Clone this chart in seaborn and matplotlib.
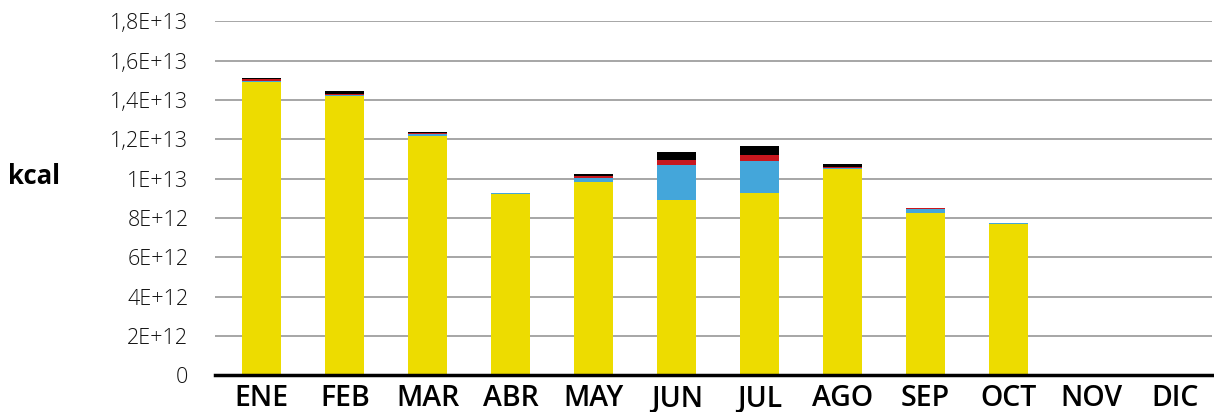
import numpy as np
import pandas as pd
import matplotlib
matplotlib.use("Agg")
import matplotlib.pyplot as plt
import seaborn as sns

# Datos por mes (en unidades de 1E+12 kcal)
meses = ["ENE", "FEB", "MAR", "ABR", "MAY", "JUN", "JUL", "AGO", "SEP", "OCT", "NOV", "DIC"]
serie_amarilla = [14.93, 14.20, 12.15, 9.23, 9.81, 8.92, 9.29, 10.48, 8.24, 7.72, 0, 0]
serie_azul = [0.05, 0.035, 0.10, 0.07, 0.21, 1.77, 1.61, 0.07, 0.21, 0.05, 0, 0]
serie_roja = [0.07, 0.07, 0.10, 0.0, 0.10, 0.26, 0.31, 0.05, 0.05, 0.0, 0, 0]
serie_negra = [0.07, 0.14, 0.05, 0.0, 0.10, 0.42, 0.47, 0.14, 0.0, 0.0, 0, 0]

colores = {"amarilla": "#EDDC00", "azul": "#44A6DA", "roja": "#C8171E", "negra": "#000000"}

escala = 1e12
df = pd.DataFrame({
    "mes": meses,
    "amarilla": np.array(serie_amarilla) * escala,
    "azul": np.array(serie_azul) * escala,
    "roja": np.array(serie_roja) * escala,
    "negra": np.array(serie_negra) * escala,
})

# Acumulados para apilar (se dibuja del total hacia abajo)
df["c_amarilla"] = df["amarilla"]
df["c_azul"] = df["c_amarilla"] + df["azul"]
df["c_roja"] = df["c_azul"] + df["roja"]
df["c_negra"] = df["c_roja"] + df["negra"]

sns.set_style("white")
plt.rcParams["font.family"] = ["Open Sans", "DejaVu Sans"]

fig = plt.figure(figsize=(12.14, 4.12), dpi=100)
ax = fig.add_axes([0.177, 0.0886, 0.821, 0.8596])

for capa in ["negra", "roja", "azul", "amarilla"]:
    sns.barplot(data=df, x="mes", y="c_" + capa, color=colores[capa],
                width=0.47, saturation=1, ax=ax, zorder=3, linewidth=0)

ax.set_ylim(0, 1.8e13)
ax.set_xlim(-0.565, 11.445)

ticks = np.arange(0, 1.8e13 + 1, 2e12)
etiquetas = ["0", "2E+12", "4E+12", "6E+12", "8E+12", "1E+13",
             "1,2E+13", "1,4E+13", "1,6E+13", "1,8E+13"]
ax.set_yticks(ticks)
ax.set_yticklabels(etiquetas, fontsize=15.5, fontweight="light", color="#111111")
ax.tick_params(axis="y", length=0, pad=19)
ax.tick_params(axis="x", length=0, pad=6, labelsize=20.5, labelcolor="black")
for lbl in ax.get_xticklabels():
    lbl.set_fontweight("semibold")

ax.yaxis.grid(True, color="#A6A6A6", linewidth=1.4, zorder=0)
ax.set_axisbelow(True)
for lado in ["top", "right", "left"]:
    ax.spines[lado].set_visible(False)
ax.spines["bottom"].set_color("black")
ax.spines["bottom"].set_linewidth(2.5)
ax.spines["bottom"].set_zorder(5)

ax.set_xlabel("")
ax.set_ylabel("")
fig.text(0.007, 1 - 176 / 412, "kcal", fontsize=18.5, fontweight="bold",
         ha="left", va="center", color="black")

fig.savefig("out.png", dpi=100)
